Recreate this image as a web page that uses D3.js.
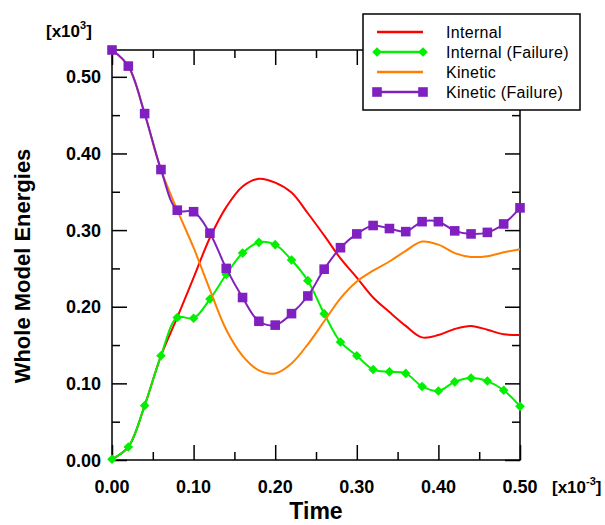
<html>
<head>
<style>
  body { margin: 0; background: #fff; }
  text { font-family: "Liberation Sans", Arial, sans-serif; }
</style>
</head>
<body>
<svg id="chart" width="605" height="525"></svg>
<script src="https://cdnjs.cloudflare.com/ajax/libs/d3/7.8.5/d3.min.js"></script>
<script>
// values in units of x10^3 (energy) and x10^-3 (time)
const time = [0.00, 0.02, 0.04, 0.06, 0.08, 0.10, 0.12, 0.14, 0.16, 0.18, 0.20, 0.22, 0.24,
              0.26, 0.28, 0.30, 0.32, 0.34, 0.36, 0.38, 0.40, 0.42, 0.44, 0.46, 0.48, 0.50]
const internal = [0.001, 0.017, 0.071, 0.136, 0.186, 0.238, 0.290, 0.330, 0.357, 0.367, 0.362, 0.349, 0.322,
                  0.293, 0.263, 0.238, 0.212, 0.193, 0.175, 0.160, 0.163, 0.171, 0.175, 0.170, 0.164, 0.163]
const internalFail = [0.001, 0.017, 0.071, 0.136, 0.186, 0.185, 0.210, 0.242, 0.270, 0.284, 0.281, 0.261, 0.234,
                      0.191, 0.154, 0.136, 0.118, 0.115, 0.113, 0.096, 0.090, 0.102, 0.107, 0.103, 0.091, 0.070]
const kinetic = [0.535, 0.514, 0.452, 0.379, 0.326, 0.277, 0.222, 0.170, 0.136, 0.117, 0.113, 0.126, 0.151,
                 0.181, 0.211, 0.233, 0.247, 0.259, 0.273, 0.285, 0.281, 0.270, 0.265, 0.266, 0.271, 0.275]
const kineticFail = [0.535, 0.514, 0.452, 0.379, 0.326, 0.324, 0.296, 0.250, 0.212, 0.181, 0.176, 0.191, 0.214,
                     0.249, 0.277, 0.295, 0.306, 0.302, 0.298, 0.311, 0.311, 0.299, 0.295, 0.297, 0.308, 0.329]
const tickLabels = [0.00, 0.10, 0.20, 0.30, 0.40, 0.50]

const series = [
  { name: "Internal", values: internal, color: "#ff0000", marker: null },
  { name: "Internal (Failure)", values: internalFail, color: "#00f000", marker: "diamond" },
  { name: "Kinetic", values: kinetic, color: "#ff8000", marker: null },
  { name: "Kinetic (Failure)", values: kineticFail, color: "#8020c0", marker: "square" }
]

const svg = d3.select("#chart")
const plotLeft = 112, plotRight = 520, plotTop = 50, plotBottom = 460

const x = d3.scaleLinear().domain([0, 0.5]).range([plotLeft, plotRight])
const y = d3.scaleLinear().domain([0, 0.535]).range([plotBottom, plotTop])

const major = [0, 0.1, 0.2, 0.3, 0.4, 0.5]
const minor = [0.05, 0.15, 0.25, 0.35, 0.45]

// frame
svg.append("rect")
  .attr("x", plotLeft).attr("y", plotTop)
  .attr("width", plotRight - plotLeft).attr("height", plotBottom - plotTop)
  .attr("fill", "none").attr("stroke", "#000").attr("stroke-width", 1.5)

// inward ticks on all four sides
function ticks(axis, vals, len) {
  axis.tickValues(vals).tickSize(-len).tickFormat("")
  return axis
}
const sides = [
  { axis: d3.axisBottom, scale: x, tr: `translate(0,${plotBottom})` },
  { axis: d3.axisTop, scale: x, tr: `translate(0,${plotTop})` },
  { axis: d3.axisLeft, scale: y, tr: `translate(${plotLeft},0)` },
  { axis: d3.axisRight, scale: y, tr: `translate(${plotRight},0)` }
]
sides.forEach(s => {
  [[major, 15], [minor, 8]].forEach(([vals, len]) => {
    const g = svg.append("g").attr("transform", s.tr)
      .call(ticks(s.axis(s.scale), vals, len))
    g.select(".domain").remove()
    g.selectAll("line").attr("stroke", "#000").attr("stroke-width", 1.5)
  })
})

// tick labels
svg.append("g").selectAll("text")
  .data(tickLabels).enter().append("text")
  .attr("x", d => x(d)).attr("y", 493)
  .attr("text-anchor", "middle")
  .attr("font-size", 18).attr("font-weight", "bold")
  .text(d => d.toFixed(2))

svg.append("g").selectAll("text")
  .data(tickLabels).enter().append("text")
  .attr("x", 101).attr("y", d => y(d) + 6.5)
  .attr("text-anchor", "end")
  .attr("font-size", 18).attr("font-weight", "bold")
  .text(d => d.toFixed(2))

// multipliers
let m1 = svg.append("text").attr("x", 46).attr("y", 37)
  .attr("font-size", 17).attr("font-weight", "bold")
m1.append("tspan").text("[x10")
m1.append("tspan").attr("dy", -8).attr("font-size", 11).text("3")
m1.append("tspan").attr("dy", 8).text("]")

let m2 = svg.append("text").attr("x", 552).attr("y", 493)
  .attr("font-size", 17).attr("font-weight", "bold")
m2.append("tspan").text("[x10")
m2.append("tspan").attr("dy", -8).attr("font-size", 11).text("-3")
m2.append("tspan").attr("dy", 8).text("]")

// axis titles
svg.append("text")
  .attr("x", 316).attr("y", 519)
  .attr("text-anchor", "middle")
  .attr("font-size", 23).attr("font-weight", "bold")
  .text("Time")

svg.append("text")
  .attr("transform", "translate(30,266) rotate(-90)")
  .attr("text-anchor", "middle")
  .attr("font-size", 22).attr("font-weight", "bold")
  .text("Whole Model Energies")

// markers
function markerPath(type) {
  if (type === "diamond") return "M0,-4.8L4.8,0L0,4.8L-4.8,0Z"
  return "M-4.8,-4.8H4.8V4.8H-4.8Z"
}

const line = d3.line()
  .x((d, i) => x(time[i]))
  .y(d => y(d))
  .curve(d3.curveCatmullRom.alpha(0.5))

series.forEach(s => {
  svg.append("path")
    .datum(s.values)
    .attr("d", line)
    .attr("fill", "none")
    .attr("stroke", s.color)
    .attr("stroke-width", 2)
  if (s.marker) {
    svg.append("g").selectAll("path")
      .data(s.values).enter().append("path")
      .attr("transform", (d, i) => `translate(${x(time[i])},${y(d)})`)
      .attr("d", markerPath(s.marker))
      .attr("fill", s.color)
  }
})

// legend
const legend = svg.append("g")
legend.append("rect")
  .attr("x", 363).attr("y", 14).attr("width", 217).attr("height", 96)
  .attr("fill", "#fff").attr("stroke", "#000").attr("stroke-width", 1.5)

series.forEach((s, i) => {
  const ly = 32 + i * 20
  legend.append("line")
    .attr("x1", 377).attr("x2", 423).attr("y1", ly).attr("y2", ly)
    .attr("stroke", s.color).attr("stroke-width", 2.5)
  if (s.marker) {
    [377, 423].forEach(mx => {
      legend.append("path")
        .attr("transform", `translate(${mx},${ly})`)
        .attr("d", markerPath(s.marker))
        .attr("fill", s.color)
    })
  }
  legend.append("text")
    .attr("x", 446).attr("y", ly + 5.5)
    .attr("font-size", 16)
    .attr("letter-spacing", 0.3)
    .text(s.name)
})
</script>
</body>
</html>
